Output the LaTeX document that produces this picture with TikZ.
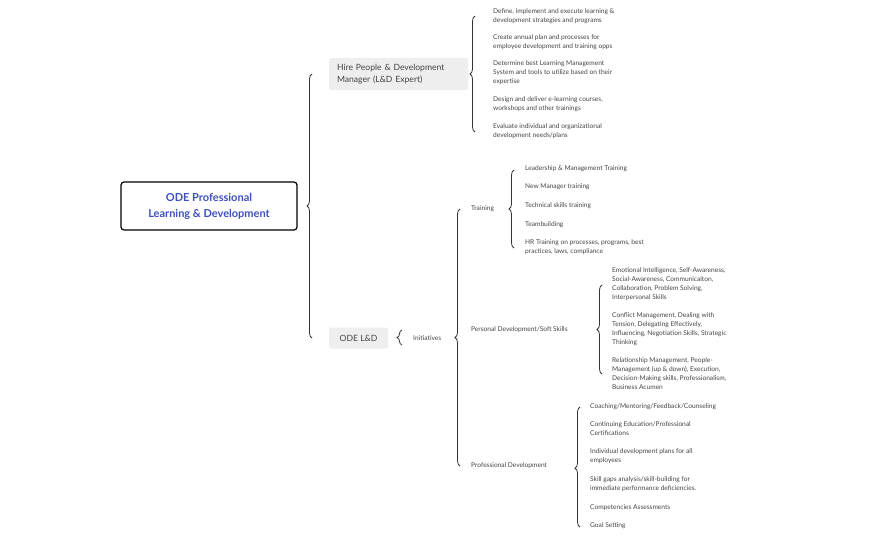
\documentclass[tikz,border=0pt]{standalone}
\usepackage{fontspec}
\setmainfont{Lato}
\usetikzlibrary{decorations.pathreplacing}
\definecolor{odeblue}{HTML}{3E4FC0}
\definecolor{boxgrey}{HTML}{EEEEEE}
\definecolor{txtgrey}{HTML}{444444}
\tikzset{
  item/.style={anchor=north west,inner sep=0pt,align=left,font=\fontsize{6.6}{9}\selectfont,text=txtgrey},
  topic/.style={fill=boxgrey,rounded corners=2pt,inner sep=0pt,font=\fontsize{8.6}{12}\selectfont,text=txtgrey},
  brc/.style={decorate,decoration={brace,amplitude=5pt,aspect=#1},line width=0.8pt,draw=black!80},
}
\begin{document}
\begin{tikzpicture}[x=1pt,y=-1pt]
  \useasboundingbox (0,0) rectangle (871,539);
  % root and main topics
  \node[draw,line width=1.2pt,rounded corners=3pt,minimum width=176pt,minimum height=48pt,align=center,
        text=odeblue,font=\fontsize{11}{16}\selectfont\bfseries] (root) at (209,206) {ODE Professional\\Learning \& Development};
  \node[topic,minimum width=139pt,minimum height=32pt,align=left,text width=123pt] (hire) at (398.5,74) {Hire People \& Development\\Manager (L\&D Expert)};
  \node[topic,minimum width=59pt,minimum height=21pt] (odeld) at (358.5,338) {ODE L\&D};
  \coordinate (mainT) at (312,74);
  \coordinate (mainB) at (312,338);
  \draw[brc=0.5] (mainB) -- (mainT);
  % hire items
  \coordinate (hireT) at (475,16);
  \coordinate (hireB) at (475,132);
  \draw[brc=0.5] (hireB) -- (hireT);
  \node[item] (h1) at (493,8) {Define, implement and execute learning \&\\development strategies and programs};
  \node[item] (h2) at (493,34) {Create annual plan and processes for\\employee development and training opps};
  \node[item] (h3) at (493,60) {Determine best Learning Management\\System and tools to utilize based on their\\expertise};
  \node[item] (h4) at (493,96) {Design and deliver e-learning courses,\\workshops and other trainings};
  \node[item] (h5) at (493,123) {Evaluate individual and organizational\\development needs/plans};
  % ODE L&D
  \draw[brc=0.5] (402,345) -- (402,330);
  \node[item,anchor=west] (init) at (413,338) {Initiatives};
  \coordinate (initT) at (460,209);
  \coordinate (initB) at (460,466);
  \draw[brc=0.5] (initB) -- (initT);
  \node[item,anchor=west] (train) at (471,209) {Training};
  \node[item,anchor=west] (soft) at (471,330) {Personal Development/Soft Skills};
  \node[item,anchor=west] (prof) at (471,466) {Professional Development};
  % training
  \draw[brc=0.5] (514,248) -- (514,170);
  \node[item] (t1) at (525,165) {Leadership \& Management Training};
  \node[item] (t2) at (525,183) {New Manager training};
  \node[item] (t3) at (525,202) {Technical skills training};
  \node[item] (t4) at (525,221) {Teambuilding};
  \node[item] (t5) at (525,239) {HR Training on processes, programs, best\\practices, laws, compliance};
  % soft skills
  \draw[brc=0.5] (602,374) -- (602,285);
  \node[item] (s1) at (612,267) {Emotional Intelligence, Self-Awareness,\\Social-Awareness, Communicaiton,\\Collaboration, Problem Solving,\\Interpersonal Skills};
  \node[item] (s2) at (612,312) {Conflict Management, Dealing with\\Tension, Delegating Effectively,\\Influencing, Negotiation Skills, Strategic\\Thinking};
  \node[item] (s3) at (612,357) {Relationship Management, People-\\Management (up \& down), Execution,\\Decision-Making skills, Professionalism,\\Business Acumen};
  % professional development
  \draw[brc=0.49] (580,527) -- (580,407);
  \node[item] (p1) at (590,403) {Coaching/Mentoring/Feedback/Counseling};
  \node[item] (p2) at (590,421) {Continuing Education/Professional\\Certifications};
  \node[item] (p3) at (590,448) {Individual development plans for all\\employees};
  \node[item] (p4) at (590,476) {Skill gaps analysis/skill-building for\\immediate performance deficiencies.};
  \node[item] (p5) at (590,504) {Competencies Assessments};
  \node[item] (p6) at (590,522) {Goal Setting};
\end{tikzpicture}
\end{document}
